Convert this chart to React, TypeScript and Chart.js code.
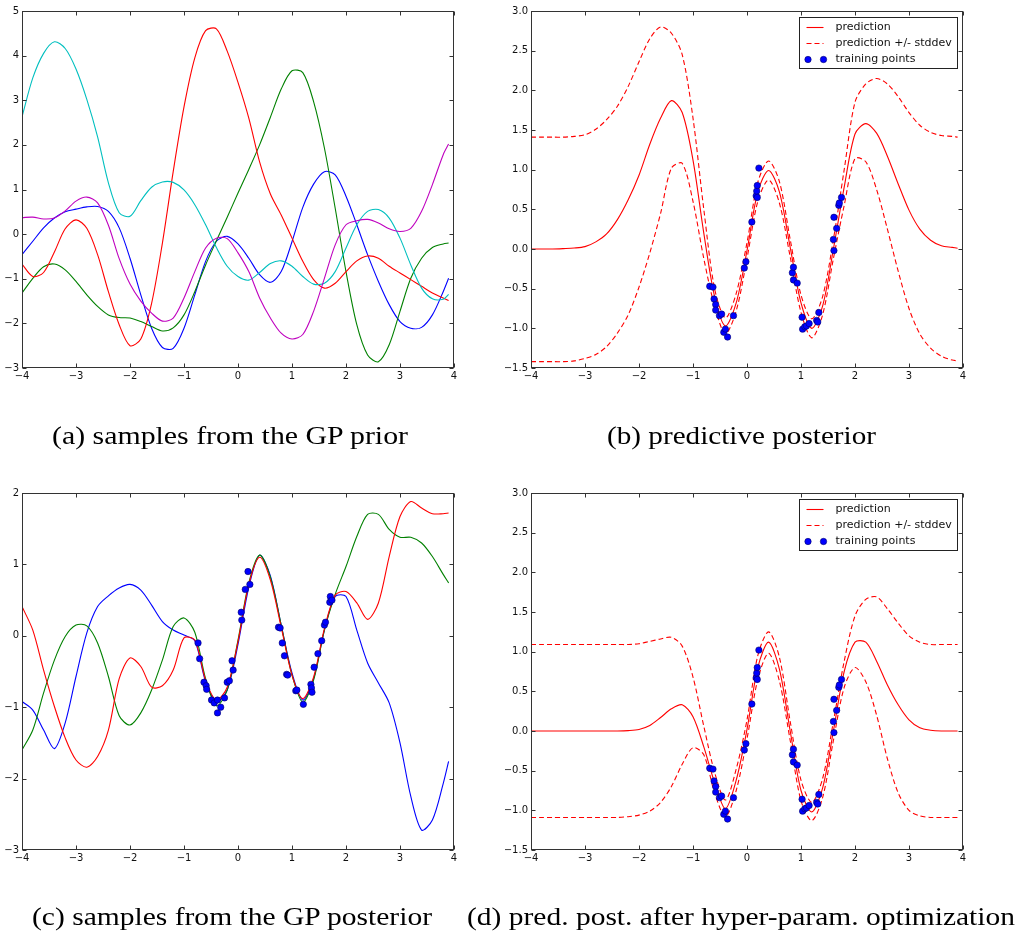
import React, { useEffect, useRef } from "react";
import { Chart, registerables } from "chart.js";

Chart.register(...registerables);

// Shared x grid for every curve
const XS = [
  -4.0, -3.8, -3.6, -3.4, -3.2, -3.0, -2.8, -2.6, -2.4, -2.2, -2.0, -1.8, -1.6, -1.4,
  -1.2, -1.0, -0.8, -0.6, -0.4, -0.2, 0.0, 0.2, 0.4, 0.6, 0.8, 1.0, 1.2, 1.4, 1.6, 1.8,
  2.0, 2.2, 2.4, 2.6, 2.8, 3.0, 3.2, 3.4, 3.6, 3.8, 3.9,
];

// (a) samples from the GP prior
const PRIOR_BLUE = [
  -0.46, -0.16, 0.14, 0.36, 0.5, 0.56, 0.61, 0.62, 0.51, 0.14, -0.54, -1.36, -2.11, -2.54,
  -2.56, -2.11, -1.36, -0.61, -0.16, -0.05, -0.22, -0.54, -0.91, -1.08, -0.84, -0.17, 0.6,
  1.12, 1.4, 1.33, 0.85, 0.21, -0.46, -1.06, -1.58, -1.96, -2.11, -2.09, -1.81, -1.29, -0.99,
];
const PRIOR_GREEN = [
  -1.32, -0.99, -0.73, -0.67, -0.8, -1.06, -1.36, -1.62, -1.81, -1.87, -1.88, -1.96, -2.07,
  -2.17, -2.1, -1.81, -1.29, -0.69, -0.15, 0.38, 0.92, 1.45, 2.0, 2.62, 3.25, 3.66, 3.62,
  2.97, 1.93, 0.58, -0.84, -2.03, -2.71, -2.86, -2.48, -1.73, -0.99, -0.54, -0.3, -0.22, -0.2,
];
const PRIOR_RED = [
  -0.67, -0.95, -0.86, -0.4, 0.12, 0.32, 0.13, -0.46, -1.29, -2.03, -2.5, -2.35, -1.55,
  -0.2, 1.4, 2.85, 3.95, 4.56, 4.6, 4.1, 3.4, 2.6, 1.62, 0.9, 0.43, -0.09, -0.61, -1.02,
  -1.21, -1.1, -0.84, -0.6, -0.49, -0.54, -0.72, -0.87, -1.02, -1.17, -1.32, -1.43, -1.49,
];
const PRIOR_CYAN = [
  2.63, 3.5, 4.05, 4.31, 4.16, 3.7, 3.02, 2.18, 1.15, 0.48, 0.4, 0.75, 1.05, 1.17, 1.16,
  0.99, 0.66, 0.21, -0.3, -0.72, -0.95, -1.03, -0.86, -0.66, -0.6, -0.72, -0.95, -1.12,
  -1.1, -0.84, -0.31, 0.21, 0.51, 0.55, 0.36, -0.09, -0.69, -1.21, -1.45, -1.46, -1.35,
];
const PRIOR_MAGENTA = [
  0.37, 0.38, 0.34, 0.36, 0.52, 0.74, 0.83, 0.7, 0.2, -0.55, -1.12, -1.5, -1.77, -1.95,
  -1.88, -1.43, -0.84, -0.31, -0.09, -0.1, -0.42, -0.84, -1.43, -1.88, -2.22, -2.35, -2.25,
  -1.73, -0.99, -0.24, 0.21, 0.3, 0.33, 0.25, 0.12, 0.06, 0.13, 0.51, 1.11, 1.78, 2.02,
];

// (b) predictive posterior
const B_MEAN = [
  0, 0, 0, 0.005, 0.012, 0.03, 0.09, 0.19, 0.37, 0.62, 0.93, 1.32, 1.65, 1.87, 1.72, 1.12,
  0.2, -0.6, -0.97, -0.68, -0.02, 0.72, 0.99, 0.72, 0.02, -0.68, -1.0, -0.72, 0.0, 0.78,
  1.45, 1.58, 1.46, 1.17, 0.82, 0.49, 0.25, 0.11, 0.04, 0.02, 0.01,
];
const B_UPPER = [
  1.41, 1.41, 1.41, 1.41, 1.42, 1.44, 1.51, 1.63, 1.8, 2.05, 2.36, 2.65, 2.8, 2.72, 2.45,
  1.65, 0.5, -0.5, -0.87, -0.56, 0.08, 0.84, 1.11, 0.85, 0.12, -0.58, -0.88, -0.6, 0.12,
  1.0, 1.85, 2.08, 2.15, 2.08, 1.92, 1.72, 1.56, 1.47, 1.43, 1.42, 1.41,
];
const B_LOWER = [
  -1.42, -1.42, -1.42, -1.42, -1.41, -1.38, -1.33, -1.23, -1.06, -0.83, -0.48, -0.05, 0.45,
  1.02, 1.08, 0.6, -0.12, -0.72, -1.07, -0.78, -0.12, 0.6, 0.87, 0.58, -0.1, -0.8, -1.12,
  -0.83, -0.12, 0.55, 1.14, 1.1, 0.75, 0.25, -0.28, -0.75, -1.07, -1.25, -1.35, -1.4, -1.41,
];

// training data shown in (b) and (d)
const TRAIN_X = [
  -0.69, -0.63, -0.61, -0.58, -0.58, -0.51, -0.47, -0.43, -0.4, -0.36, -0.25, -0.05, -0.02,
  0.09, 0.17, 0.18, 0.19, 0.19, 0.22, 0.84, 0.86, 0.86, 0.93, 1.02, 1.03, 1.07, 1.1, 1.15,
  1.29, 1.31, 1.33, 1.6, 1.61, 1.61, 1.66, 1.7, 1.71, 1.75,
];
const TRAIN_Y = [
  -0.47, -0.48, -0.63, -0.7, -0.77, -0.84, -0.82, -1.05, -1.01, -1.11, -0.84, -0.24, -0.16,
  0.34, 0.67, 0.73, 0.65, 0.8, 1.02, -0.3, -0.23, -0.39, -0.43, -0.86, -1.01, -0.98, -0.97,
  -0.94, -0.9, -0.92, -0.8, 0.12, -0.02, 0.4, 0.26, 0.55, 0.58, 0.65,
];

// (c) samples from the GP posterior
const POST_BLUE = [
  -0.92, -1.04, -1.32, -1.58, -1.22, -0.57, 0.04, 0.41, 0.56, 0.67, 0.72, 0.64, 0.43, 0.2,
  0.08, 0.01, -0.07, -0.64, -0.92, -0.76, -0.12, 0.68, 1.13, 0.84, 0.15, -0.52, -0.9, -0.6,
  0.08, 0.55, 0.55, 0.08, -0.38, -0.66, -0.94, -1.5, -2.25, -2.72, -2.58, -2.07, -1.76,
];
const POST_GREEN = [
  -1.6, -1.32, -0.8, -0.34, -0.01, 0.15, 0.14, -0.1, -0.57, -1.12, -1.25, -1.08, -0.76,
  -0.34, 0.13, 0.25, 0.05, -0.6, -0.98, -0.76, -0.06, 0.74, 1.13, 0.82, 0.15, -0.55, -0.93,
  -0.62, 0.08, 0.58, 0.97, 1.39, 1.7, 1.7, 1.49, 1.38, 1.38, 1.3, 1.11, 0.86, 0.74,
];
const POST_RED = [
  0.41, 0.08, -0.48, -0.99, -1.43, -1.74, -1.84, -1.69, -1.32, -0.6, -0.31, -0.43, -0.72,
  -0.7, -0.48, -0.03, -0.06, -0.62, -0.9, -0.72, -0.08, 0.72, 1.1, 0.78, 0.12, -0.55, -0.88,
  -0.58, 0.1, 0.57, 0.62, 0.46, 0.23, 0.46, 1.11, 1.67, 1.88, 1.79, 1.71, 1.71, 1.72,
];
const POST_TRAIN_X = [
  -0.74, -0.71, -0.63, -0.59, -0.58, -0.49, -0.44, -0.38, -0.38, -0.32, -0.25, -0.2, -0.16,
  -0.11, -0.09, 0.06, 0.07, 0.135, 0.185, 0.22, 0.75, 0.78, 0.82, 0.86, 0.9, 0.92, 1.07,
  1.09, 1.21, 1.35, 1.36, 1.37, 1.41, 1.48, 1.55, 1.6, 1.62, 1.7, 1.71, 1.74,
];
const POST_TRAIN_Y = [
  -0.1, -0.32, -0.65, -0.7, -0.75, -0.9, -0.94, -0.9, -1.08, -1.0, -0.87, -0.65, -0.63,
  -0.35, -0.48, 0.33, 0.22, 0.65, 0.9, 0.72, 0.12, 0.11, -0.1, -0.28, -0.54, -0.55, -0.77,
  -0.76, -0.96, -0.68, -0.73, -0.79, -0.44, -0.25, -0.07, 0.15, 0.19, 0.47, 0.55, 0.5,
];

// (d) predictive posterior after hyper-parameter optimization
const D_MEAN = [
  0, 0, 0, 0, 0, 0, 0, 0, 0, 0.005, 0.02, 0.07, 0.17, 0.28, 0.33, 0.18, -0.2, -0.65, -0.98,
  -0.62, 0.02, 0.8, 1.12, 0.78, 0.0, -0.75, -1.02, -0.72, 0.0, 0.75, 1.12, 1.12, 0.88, 0.58,
  0.33, 0.14, 0.04, 0.01, 0, 0, 0,
];
const D_UPPER = [
  1.09, 1.09, 1.09, 1.09, 1.09, 1.09, 1.09, 1.09, 1.09, 1.09, 1.1, 1.13, 1.16, 1.18, 1.07,
  0.68, 0.06, -0.52, -0.87, -0.48, 0.14, 0.95, 1.25, 0.93, 0.12, -0.62, -0.9, -0.6, 0.12,
  0.88, 1.45, 1.66, 1.69, 1.54, 1.36, 1.2, 1.12, 1.09, 1.09, 1.09, 1.09,
];
const D_LOWER = [
  -1.09, -1.09, -1.09, -1.09, -1.09, -1.09, -1.09, -1.09, -1.09, -1.08, -1.06, -1.01, -0.9,
  -0.7, -0.42, -0.21, -0.3, -0.78, -1.08, -0.75, -0.1, 0.65, 0.98, 0.63, -0.12, -0.88, -1.13,
  -0.84, -0.12, 0.55, 0.8, 0.62, 0.2, -0.35, -0.78, -1.0, -1.07, -1.09, -1.09, -1.09, -1.09,
];

const LEGEND_LABELS = ["prediction", "prediction +/- stddev", "training points"];

const CAPTIONS = [
  "(a) samples from the GP prior",
  "(b) predictive posterior",
  "(c) samples from the GP posterior",
  "(d) pred. post. after hyper-param. optimization",
];

// caption placement (left, baseline, fitted width)
const CAPTION_LAYOUT = [
  { x: 52, y: 444, w: 356 },
  { x: 607, y: 444, w: 269 },
  { x: 32, y: 925, w: 400 },
  { x: 467, y: 925, w: 548 },
];

const COLORS = {
  b: "#0000ff",
  g: "#008000",
  r: "#ff0000",
  c: "#00bfbf",
  m: "#bf00bf",
};

const MINUS = "\u2212";
const intLabel = (v: number | string) => String(v).replace("-", MINUS);
const decLabel = (v: number | string) => Number(v).toFixed(1).replace("-", MINUS);

const TICK_FONT = { family: "DejaVu Sans", size: 10 };
const DASH = [5, 3];

const toPoints = (ys: number[]) => ys.map((y, i) => ({ x: XS[i], y }));
const toScatter = (xs: number[], ys: number[]) => xs.map((x, i) => ({ x, y: ys[i] }));

function curve(label: string, ys: number[], color: string, order: number, dash: number[] = [], inLegend = false) {
  return {
    label,
    data: toPoints(ys),
    showLine: true,
    borderColor: color,
    backgroundColor: color,
    borderWidth: 1.1,
    borderDash: dash,
    pointRadius: 0,
    pointHoverRadius: 0,
    tension: 0.3,
    fill: false,
    order,
    inLegend,
  };
}

function dots(label: string, xs: number[], ys: number[], inLegend = false) {
  return {
    label,
    data: toScatter(xs, ys),
    showLine: false,
    pointRadius: 3.2,
    pointHoverRadius: 3.2,
    pointBackgroundColor: COLORS.b,
    pointBorderColor: "#00006a",
    pointBorderWidth: 0.6,
    backgroundColor: COLORS.b,
    borderColor: "#00006a",
    order: 0,
    inLegend,
  };
}

// axes frame with inward tick marks on all four sides
const framePlugin = {
  id: "mplFrame",
  afterDatasetsDraw(chart: any) {
    const { ctx, chartArea: a, scales } = chart;
    const L = Math.round(a.left) + 0.5;
    const R = Math.round(a.right) - 0.5;
    const T = Math.round(a.top) + 0.5;
    const B = Math.round(a.bottom) - 0.5;
    const len = 4;
    ctx.save();
    ctx.strokeStyle = "#333";
    ctx.lineWidth = 1;
    ctx.setLineDash([]);
    ctx.beginPath();
    scales.x.ticks.forEach((t: any) => {
      const px = Math.round(scales.x.getPixelForValue(t.value)) + 0.5;
      ctx.moveTo(px, B);
      ctx.lineTo(px, B - len);
      ctx.moveTo(px, T);
      ctx.lineTo(px, T + len);
    });
    scales.y.ticks.forEach((t: any) => {
      const py = Math.round(scales.y.getPixelForValue(t.value)) + 0.5;
      ctx.moveTo(L, py);
      ctx.lineTo(L + len, py);
      ctx.moveTo(R, py);
      ctx.lineTo(R - len, py);
    });
    ctx.stroke();
    ctx.strokeRect(L, T, R - L, B - T);
    ctx.restore();
  },
};

// boxed legend in the upper right corner of the axes
const legendPlugin = {
  id: "mplLegend",
  afterDraw(chart: any, _args: any, opts: any) {
    if (!opts || !opts.show) return;
    const { ctx, chartArea: a } = chart;
    const items = chart.data.datasets.filter((d: any) => d.inLegend);
    const w = 158;
    const h = 51;
    const rowH = 16;
    const x0 = Math.round(a.right) - 6 - w + 0.5;
    const y0 = Math.round(a.top) + 6 + 0.5;
    ctx.save();
    ctx.fillStyle = "#ffffff";
    ctx.fillRect(x0, y0, w, h);
    ctx.strokeStyle = "#222";
    ctx.lineWidth = 1;
    ctx.setLineDash([]);
    ctx.strokeRect(x0, y0, w, h);
    ctx.font = "11px 'DejaVu Sans'";
    ctx.textBaseline = "middle";
    ctx.textAlign = "left";
    items.forEach((d: any, i: number) => {
      const cy = Math.round(y0 + 9.5 + i * rowH) + 0.5;
      if (d.showLine) {
        ctx.strokeStyle = d.borderColor;
        ctx.lineWidth = d.borderWidth;
        ctx.setLineDash(d.borderDash || []);
        ctx.beginPath();
        ctx.moveTo(x0 + 7, cy);
        ctx.lineTo(x0 + 24, cy);
        ctx.stroke();
        ctx.setLineDash([]);
      } else {
        [x0 + 8.5, x0 + 24].forEach((cx) => {
          ctx.beginPath();
          ctx.arc(cx, cy, 3.2, 0, Math.PI * 2);
          ctx.fillStyle = d.pointBackgroundColor;
          ctx.fill();
          ctx.lineWidth = d.pointBorderWidth;
          ctx.strokeStyle = d.pointBorderColor;
          ctx.stroke();
        });
      }
      ctx.fillStyle = "#111";
      ctx.fillText(d.label, x0 + 36, cy);
    });
    ctx.restore();
  },
};

type Spec = {
  datasets: any[];
  yMin: number;
  yMax: number;
  yStep: number;
  yFmt: (v: number | string) => string;
  yWidth: number;
  padTop: number;
  padRight: number;
  xHeight: number;
  legend: boolean;
};

function buildConfig(spec: Spec): any {
  return {
    type: "scatter",
    data: { datasets: spec.datasets },
    options: {
      animation: false,
      responsive: false,
      devicePixelRatio: 1,
      events: [],
      layout: { padding: { top: spec.padTop, right: spec.padRight, left: 0, bottom: 0 } },
      plugins: {
        legend: { display: false },
        tooltip: { enabled: false },
        mplLegend: { show: spec.legend },
      },
      scales: {
        x: {
          type: "linear",
          position: "bottom",
          min: -4,
          max: 4,
          ticks: {
            stepSize: 1,
            callback: intLabel,
            font: TICK_FONT,
            color: "#111",
            padding: 2,
            maxRotation: 0,
            autoSkip: false,
          },
          grid: { display: false, drawTicks: false },
          border: { display: false },
          afterFit: (s: any) => {
            s.height = spec.xHeight;
          },
        },
        y: {
          type: "linear",
          position: "left",
          min: spec.yMin,
          max: spec.yMax,
          ticks: {
            stepSize: spec.yStep,
            callback: spec.yFmt,
            font: TICK_FONT,
            color: "#111",
            padding: 3,
            autoSkip: false,
          },
          grid: { display: false, drawTicks: false },
          border: { display: false },
          afterFit: (s: any) => {
            s.width = spec.yWidth;
          },
        },
      },
    },
    plugins: [framePlugin, legendPlugin],
  };
}

function Panel(props: { spec: Spec; left: number; top: number; width: number; height: number }) {
  const ref = useRef<HTMLCanvasElement>(null);
  useEffect(() => {
    const chart = new Chart(ref.current as HTMLCanvasElement, buildConfig(props.spec));
    return () => chart.destroy();
  }, []);
  return (
    <canvas
      ref={ref}
      width={props.width}
      height={props.height}
      style={{ position: "absolute", left: props.left, top: props.top, width: props.width, height: props.height }}
    />
  );
}

const priorSpec: Spec = {
  datasets: [
    curve("sample 1", PRIOR_BLUE, COLORS.b, 5),
    curve("sample 2", PRIOR_GREEN, COLORS.g, 4),
    curve("sample 3", PRIOR_RED, COLORS.r, 3),
    curve("sample 4", PRIOR_CYAN, COLORS.c, 2),
    curve("sample 5", PRIOR_MAGENTA, COLORS.m, 1),
  ],
  yMin: -3,
  yMax: 5,
  yStep: 1,
  yFmt: intLabel,
  yWidth: 22,
  padTop: 11,
  padRight: 16,
  xHeight: 17,
  legend: false,
};

const posteriorSpec: Spec = {
  datasets: [
    curve(LEGEND_LABELS[0], B_MEAN, COLORS.r, 3, [], true),
    curve(LEGEND_LABELS[1], B_UPPER, COLORS.r, 2, DASH, true),
    curve("", B_LOWER, COLORS.r, 1, DASH),
    dots(LEGEND_LABELS[2], TRAIN_X, TRAIN_Y, true),
  ],
  yMin: -1.5,
  yMax: 3,
  yStep: 0.5,
  yFmt: decLabel,
  yWidth: 26,
  padTop: 11,
  padRight: 12,
  xHeight: 17,
  legend: true,
};

const postSamplesSpec: Spec = {
  datasets: [
    dots("data", POST_TRAIN_X, POST_TRAIN_Y),
    curve("sample 1", POST_BLUE, COLORS.b, 3),
    curve("sample 2", POST_GREEN, COLORS.g, 2),
    curve("sample 3", POST_RED, COLORS.r, 1),
  ],
  yMin: -3,
  yMax: 2,
  yStep: 1,
  yFmt: intLabel,
  yWidth: 22,
  padTop: 10,
  padRight: 16,
  xHeight: 18,
  legend: false,
};

const optimizedSpec: Spec = {
  datasets: [
    curve(LEGEND_LABELS[0], D_MEAN, COLORS.r, 3, [], true),
    curve(LEGEND_LABELS[1], D_UPPER, COLORS.r, 2, DASH, true),
    curve("", D_LOWER, COLORS.r, 1, DASH),
    dots(LEGEND_LABELS[2], TRAIN_X, TRAIN_Y, true),
  ],
  yMin: -1.5,
  yMax: 3,
  yStep: 0.5,
  yFmt: decLabel,
  yWidth: 26,
  padTop: 10,
  padRight: 12,
  xHeight: 18,
  legend: true,
};

export default function App() {
  return (
    <div
      style={{
        position: "absolute",
        left: 0,
        top: 0,
        width: 1017,
        height: 936,
        background: "#ffffff",
        overflow: "hidden",
      }}
    >
      <Panel spec={priorSpec} left={0} top={0} width={470} height={385} />
      <Panel spec={posteriorSpec} left={505} top={0} width={470} height={385} />
      <Panel spec={postSamplesSpec} left={0} top={483} width={470} height={385} />
      <Panel spec={optimizedSpec} left={505} top={483} width={470} height={385} />
      <svg
        width={1017}
        height={936}
        style={{ position: "absolute", left: 0, top: 0, pointerEvents: "none" }}
      >
        {CAPTIONS.map((text, i) => (
          <text
            key={i}
            x={CAPTION_LAYOUT[i].x}
            y={CAPTION_LAYOUT[i].y}
            textLength={CAPTION_LAYOUT[i].w}
            lengthAdjust="spacingAndGlyphs"
            fontFamily="'Liberation Serif', serif"
            fontSize={26}
            fill="#000"
          >
            {text}
          </text>
        ))}
      </svg>
    </div>
  );
}
